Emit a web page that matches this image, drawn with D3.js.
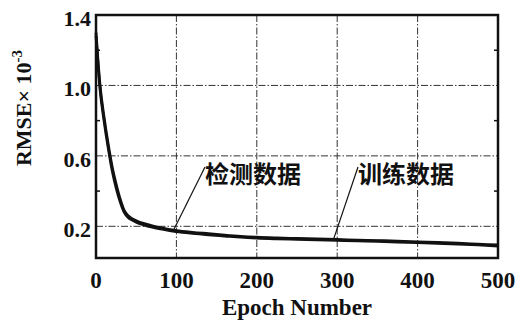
<!DOCTYPE html>
<html>
<head>
<meta charset="utf-8">
<script src="https://cdn.jsdelivr.net/npm/d3@7"></script>
<style>
  body { margin: 0; background: #fff; }
  svg text { font-family: "Liberation Serif", "DejaVu Serif", serif; font-weight: bold; fill: #111; }
  .cn { font-family: "Noto Sans CJK SC", sans-serif; font-weight: bold; }
</style>
</head>
<body>
<div id="chart"></div>
<script>
// 数据: 训练 / 检测 RMSE (×10^-3)
const epochs = [0, 2, 5, 10, 15, 20, 25, 30, 35, 40, 45, 50, 60, 70, 80, 90, 100, 120, 140, 160, 180, 200, 225, 250, 275, 300, 325, 350, 375, 400, 425, 450, 475, 500];
const trainRmse = [1.28, 1.15, 0.98, 0.8, 0.65, 0.52, 0.42, 0.34, 0.28, 0.25, 0.235, 0.223, 0.207, 0.195, 0.185, 0.177, 0.17, 0.16, 0.152, 0.145, 0.138, 0.133, 0.129, 0.126, 0.123, 0.12, 0.117, 0.115, 0.111, 0.107, 0.103, 0.099, 0.094, 0.088];
const testRmse = [1.3, 1.17, 1.0, 0.82, 0.67, 0.54, 0.44, 0.355, 0.29, 0.26, 0.243, 0.232, 0.215, 0.202, 0.192, 0.183, 0.176, 0.166, 0.158, 0.15, 0.143, 0.138, 0.134, 0.131, 0.128, 0.125, 0.122, 0.119, 0.116, 0.112, 0.108, 0.104, 0.099, 0.094];
const xTicks = [0, 100, 200, 300, 400, 500];
const yTicks = [0.2, 0.6, 1.0, 1.4];
const yMinor = [0.4, 0.8, 1.2];

const width = 520, height = 326;
const margin = { left: 96, right: 22, top: 15, bottom: 68 };

const svg = d3.select("#chart").append("svg")
    .attr("width", width)
    .attr("height", height);

const x = d3.scaleLinear().domain([0, 500]).range([margin.left, width - margin.right]);
const y = d3.scaleLinear().domain([0.02, 1.4]).range([height - margin.bottom, margin.top]);

// 网格线 (点划线)
svg.append("g").selectAll("line")
    .data(xTicks.slice(1, -1))
    .join("line")
    .attr("x1", d => x(d)).attr("x2", d => x(d))
    .attr("y1", y.range()[1]).attr("y2", y.range()[0])
    .attr("stroke", "#333").attr("stroke-width", 1)
    .attr("stroke-dasharray", "7,2,1.5,2");

svg.append("g").selectAll("line")
    .data(yTicks.slice(0, -1))
    .join("line")
    .attr("y1", d => y(d)).attr("y2", d => y(d))
    .attr("x1", x.range()[0]).attr("x2", x.range()[1])
    .attr("stroke", "#333").attr("stroke-width", 1)
    .attr("stroke-dasharray", "7,2,1.5,2");

// 小刻度
svg.append("g").selectAll("line")
    .data(yMinor)
    .join("line")
    .attr("x1", x.range()[0]).attr("x2", x.range()[0] + 4)
    .attr("y1", d => y(d)).attr("y2", d => y(d))
    .attr("stroke", "#111").attr("stroke-width", 1.5);
svg.append("g").selectAll("line")
    .data(yMinor)
    .join("line")
    .attr("x1", x.range()[1] - 4).attr("x2", x.range()[1])
    .attr("y1", d => y(d)).attr("y2", d => y(d))
    .attr("stroke", "#111").attr("stroke-width", 1.5);

// 曲线
const line = d3.line()
    .x((d, i) => x(epochs[i]))
    .y(d => y(d))
    .curve(d3.curveMonotoneX);

svg.append("path").datum(testRmse)
    .attr("d", line).attr("fill", "none")
    .attr("stroke", "#111").attr("stroke-width", 2.8);
svg.append("path").datum(trainRmse)
    .attr("d", line).attr("fill", "none")
    .attr("stroke", "#111").attr("stroke-width", 2.8);

// 边框
svg.append("rect")
    .attr("x", x.range()[0]).attr("y", y.range()[1])
    .attr("width", x.range()[1] - x.range()[0])
    .attr("height", y.range()[0] - y.range()[1])
    .attr("fill", "none").attr("stroke", "#111").attr("stroke-width", 2.5);

// 刻度标签
svg.append("g").selectAll("text")
    .data(xTicks)
    .join("text")
    .attr("x", d => x(d)).attr("y", y.range()[0] + 30)
    .attr("text-anchor", "middle")
    .style("font-size", "23px")
    .text(d => d);

svg.append("g").selectAll("text")
    .data(yTicks)
    .join("text")
    .attr("x", x.range()[0] - 5).attr("y", d => y(d) + 11)
    .attr("text-anchor", "end")
    .style("font-size", "22px")
    .text(d => d.toFixed(1));

// 轴标题
svg.append("text")
    .attr("x", (x.range()[0] + x.range()[1]) / 2).attr("y", 315)
    .attr("text-anchor", "middle")
    .style("font-size", "23px")
    .text("Epoch Number");

const yt = svg.append("text")
    .attr("transform", "translate(31,108) rotate(-90)")
    .attr("text-anchor", "middle")
    .style("font-size", "22px");
yt.append("tspan").text("RMSE× 10");
yt.append("tspan").attr("dy", -9).style("font-size", "15px").text("-3");

// 图例标注
const notes = [
    { label: "检测数据", epoch: 97, value: 0.183, tx: 205, ty: 183 },
    { label: "训练数据", epoch: 295, value: 0.12, tx: 358, ty: 183 }
];
notes.forEach(n => {
    svg.append("line")
        .attr("x1", x(n.epoch)).attr("y1", y(n.value))
        .attr("x2", n.tx).attr("y2", n.ty - 16)
        .attr("stroke", "#111").attr("stroke-width", 1.2);
    svg.append("text")
        .attr("class", "cn")
        .attr("x", n.tx).attr("y", n.ty)
        .style("font-size", "24px")
        .text(n.label);
});
</script>
</body>
</html>
